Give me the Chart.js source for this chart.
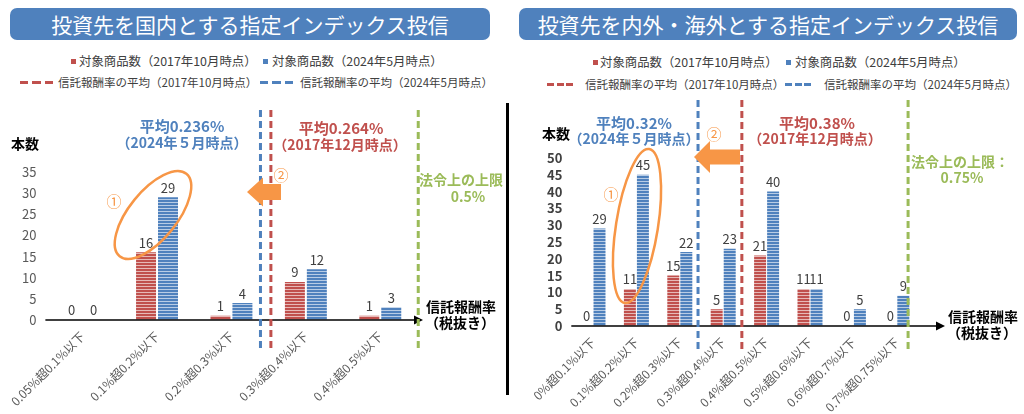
<!DOCTYPE html>
<html lang="ja">
<head>
<meta charset="utf-8">
<script src="https://cdn.jsdelivr.net/npm/chart.js@4.4.1/dist/chart.umd.min.js"></script>
<style>
  body { margin: 0; width: 1024px; height: 414px; background: #fff; position: relative; overflow: hidden;
         font-family: "Noto Sans CJK JP", sans-serif; color: #404040; }
  .banner { position: absolute; top: 8px; height: 32px; background: #4F81BD; border-radius: 7px;
            color: #fff; font-size: 21px; line-height: 32px; text-align: center; }
  .lg { position: absolute; white-space: nowrap; line-height: 16px; }
  .r1 { font-size: 12.4px; }
  .r2 { font-size: 11.5px; }
  .sq { position: absolute; width: 5px; height: 5px; }
  .dash { position: absolute; height: 3px; }
  .divider { position: absolute; left: 506px; top: 103px; width: 3px; height: 292px; background: #000; }
  canvas { position: absolute; }
</style>
</head>
<body>
<div class="banner" style="left:10px;width:480px;">投資先を国内とする指定インデックス投信</div>
<div class="banner" style="left:519px;width:498px;">投資先を内外・海外とする指定インデックス投信</div>

<!-- left legend -->
<div class="sq" style="left:71px;top:59px;background:#C0504D"></div>
<div class="lg r1" style="left:79px;top:53px;">対象商品数（2017年10月時点）</div>
<div class="sq" style="left:263px;top:59px;background:#4F81BD"></div>
<div class="lg r1" style="left:272px;top:53px;">対象商品数（2024年5月時点）</div>
<div class="dash" style="left:20px;top:81px;width:33px;background:repeating-linear-gradient(to right,#C0504D 0 8px,transparent 8px 12.5px)"></div>
<div class="lg r2" style="left:58px;top:74px;">信託報酬率の平均（2017年10月時点）</div>
<div class="dash" style="left:260px;top:81px;width:33px;background:repeating-linear-gradient(to right,#4F81BD 0 8px,transparent 8px 12.5px)"></div>
<div class="lg r2" style="left:300px;top:74px;">信託報酬率の平均（2024年5月時点）</div>

<!-- right legend -->
<div class="sq" style="left:593px;top:60px;background:#C0504D"></div>
<div class="lg r1" style="left:600px;top:54px;">対象商品数（2017年10月時点）</div>
<div class="sq" style="left:786px;top:60px;background:#4F81BD"></div>
<div class="lg r1" style="left:795px;top:54px;">対象商品数（2024年5月時点）</div>
<div class="dash" style="left:547px;top:83px;width:26px;background:repeating-linear-gradient(to right,#C0504D 0 7px,transparent 7px 9.5px)"></div>
<div class="lg r2" style="left:585px;top:76px;">信託報酬率の平均（2017年10月時点）</div>
<div class="dash" style="left:785px;top:83px;width:26px;background:repeating-linear-gradient(to right,#4F81BD 0 7px,transparent 7px 9.5px)"></div>
<div class="lg r2" style="left:824px;top:76px;">信託報酬率の平均（2024年5月時点）</div>

<div class="divider"></div>

<canvas id="leftChart" width="505" height="319" style="left:0;top:95px;"></canvas>
<canvas id="rightChart" width="512" height="319" style="left:512px;top:95px;"></canvas>

<script>
// Left chart: domestic index funds
const leftCategories = ['0.05%超0.1%以下', '0.1%超0.2%以下', '0.2%超0.3%以下', '0.3%超0.4%以下', '0.4%超0.5%以下'];
const leftCount2017 = [0, 16, 1, 9, 1];
const leftCount2024 = [0, 29, 4, 12, 3];
const leftYMax = 35;
// where the 2024 average, 2017 average and legal limit lines sit on the category axis
const leftRefLines = [2.39, 2.53, 4.51];

// Right chart: domestic/foreign index funds
const rightCategories = ['0%超0.1%以下', '0.1%超0.2%以下', '0.2%超0.3%以下', '0.3%超0.4%以下',
    '0.4%超0.5%以下', '0.5%超0.6%以下', '0.6%超0.7%以下', '0.7%超0.75%以下'];
const rightCount2017 = [0, 11, 15, 5, 21, 11, 0, 0];
const rightCount2024 = [29, 45, 22, 23, 40, 11, 5, 9];
const rightYMax = 50;
const rightRefLines = [2.42, 3.43, 7.26];

const yStep = 5;

const RED = '#C0504D';
const BLUE = '#4F81BD';
const GREEN = '#9BBB59';
const ORANGE = '#F79646';
const FONT = '"Noto Sans CJK JP", sans-serif';

Chart.defaults.font.family = FONT;

// horizontal stripe fill like the original bars
function stripes(ctx, color) {
    const c = document.createElement('canvas');
    c.width = 4;
    c.height = 3;
    const g = c.getContext('2d');
    g.fillStyle = color;
    g.fillRect(0, 0, 4, 3);
    g.fillStyle = 'rgba(255,255,255,0.6)';
    g.fillRect(0, 2, 4, 1);
    return ctx.createPattern(c, 'repeat');
}

function drawArrowLeft(ctx, tipX, tipY, tailX, headLen, bodyHalf, headHalf) {
    ctx.beginPath();
    ctx.moveTo(tipX, tipY);
    ctx.lineTo(tipX + headLen, tipY - headHalf);
    ctx.lineTo(tipX + headLen, tipY - bodyHalf);
    ctx.lineTo(tailX, tipY - bodyHalf);
    ctx.lineTo(tailX, tipY + bodyHalf);
    ctx.lineTo(tipX + headLen, tipY + bodyHalf);
    ctx.lineTo(tipX + headLen, tipY + headHalf);
    ctx.closePath();
    ctx.fillStyle = ORANGE;
    ctx.fill();
}

// labels, axis arrow, reference lines and annotations (page coordinates, shifted by the canvas offset)
function decorPlugin(cfg) {
    return {
        id: 'decor',
        afterDatasetsDraw(chart) {
            const ctx = chart.ctx;
            const area = chart.chartArea;
            const xs = chart.scales.x;
            const ox = cfg.ox, oy = cfg.oy;
            ctx.save();

            // value labels
            ctx.font = '13px ' + FONT;
            ctx.fillStyle = '#404040';
            ctx.textAlign = 'center';
            ctx.textBaseline = 'bottom';
            chart.data.datasets.forEach((ds, i) => {
                chart.getDatasetMeta(i).data.forEach((bar, j) => {
                    ctx.fillText(String(ds.data[j]), bar.x, bar.y - 3);
                });
            });

            // x axis with arrow
            const ay = area.bottom;
            const endX = cfg.axisEnd - ox;
            ctx.strokeStyle = '#000';
            ctx.lineWidth = 1.5;
            ctx.beginPath();
            ctx.moveTo(area.left, ay);
            ctx.lineTo(endX - 6, ay);
            ctx.stroke();
            ctx.fillStyle = '#000';
            ctx.beginPath();
            ctx.moveTo(endX, ay);
            ctx.lineTo(endX - 9, ay - 4.5);
            ctx.lineTo(endX - 9, ay + 4.5);
            ctx.closePath();
            ctx.fill();

            // dashed reference lines
            const lineColors = [BLUE, RED, GREEN];
            ctx.lineWidth = 3;
            ctx.setLineDash([7, 4]);
            cfg.lines.forEach((pos, i) => {
                const x = xs.getPixelForValue(pos);
                ctx.strokeStyle = lineColors[i];
                ctx.beginPath();
                ctx.moveTo(x, cfg.lineTop - oy);
                ctx.lineTo(x, cfg.lineBottom - oy);
                ctx.stroke();
            });
            ctx.setLineDash([]);

            // ellipse around the main bin
            const e = cfg.ellipse;
            ctx.strokeStyle = ORANGE;
            ctx.lineWidth = 2.5;
            ctx.beginPath();
            ctx.ellipse(e.x - ox, e.y - oy, e.rx, e.ry, e.rot * Math.PI / 180, 0, Math.PI * 2);
            ctx.stroke();

            const a = cfg.arrow;
            drawArrowLeft(ctx, a.tipX - ox, a.tipY - oy, a.tailX - ox, a.headLen, a.bodyHalf, a.headHalf);

            ctx.textBaseline = 'middle';
            cfg.texts.forEach(t => {
                ctx.font = t.f + ' ' + FONT;
                ctx.fillStyle = t.c;
                ctx.fillText(t.t, t.x - ox, t.y - oy);
            });
            ctx.restore();
        }
    };
}

function makeChart(id, categories, d2017, d2024, yMax, opts, decor) {
    const canvas = document.getElementById(id);
    const ctx = canvas.getContext('2d');
    return new Chart(ctx, {
        type: 'bar',
        data: {
            labels: categories,
            datasets: [
                { label: '対象商品数（2017年10月時点）', data: d2017, backgroundColor: stripes(ctx, RED),
                  categoryPercentage: opts.catPct, barPercentage: opts.barPct },
                { label: '対象商品数（2024年5月時点）', data: d2024, backgroundColor: stripes(ctx, BLUE),
                  categoryPercentage: opts.catPct, barPercentage: opts.barPct }
            ]
        },
        options: {
            responsive: false,
            animation: false,
            layout: { padding: opts.padding },
            plugins: { legend: { display: false }, tooltip: { enabled: false } },
            scales: {
                x: {
                    grid: { display: false, drawTicks: false },
                    border: { display: false },
                    ticks: { autoSkip: false, minRotation: 45, maxRotation: 45, color: '#595959',
                             font: { size: 12 }, padding: 9 },
                    afterFit: s => { s.height = opts.xHeight; }
                },
                y: {
                    min: 0,
                    max: yMax,
                    grid: { display: false, drawTicks: false },
                    border: { display: false },
                    ticks: { stepSize: yStep, autoSkip: false, color: opts.yColor,
                             font: { size: 13, weight: opts.yWeight }, padding: 9 },
                    afterFit: s => { s.width = opts.yWidth; }
                }
            }
        },
        plugins: [decorPlugin(decor)]
    });
}

document.addEventListener('DOMContentLoaded', function () {
    makeChart('leftChart', leftCategories, leftCount2017, leftCount2024, leftYMax,
        { catPct: 0.59, barPct: 0.91, padding: { left: 6.5, right: 87.5, top: 77, bottom: 0 },
          xHeight: 94, yWidth: 36, yColor: '#595959', yWeight: 'normal' },
        { ox: 0, oy: 95, axisEnd: 423, lines: leftRefLines, lineTop: 110, lineBottom: 352,
          ellipse: { x: 153, y: 215, rx: 53, ry: 24, rot: -51 },
          arrow: { tipX: 247, tipY: 192, tailX: 281, headLen: 16, bodyHalf: 8, headHalf: 14.5 },
          texts: [
              { t: '平均0.236%', x: 182, y: 126, c: BLUE, f: 'bold 15px' },
              { t: '（2024年５月時点）', x: 182, y: 143, c: BLUE, f: 'bold 14px' },
              { t: '平均0.264%', x: 341, y: 128, c: RED, f: 'bold 15px' },
              { t: '（2017年12月時点）', x: 340, y: 145, c: RED, f: 'bold 14px' },
              { t: '法令上の上限', x: 461, y: 180, c: GREEN, f: 'bold 14px' },
              { t: '0.5%', x: 468, y: 197, c: GREEN, f: 'bold 14px' },
              { t: '信託報酬率', x: 461, y: 307, c: '#000', f: 'bold 14px' },
              { t: '（税抜き）', x: 460, y: 323, c: '#000', f: 'bold 14px' },
              { t: '本数', x: 25, y: 144, c: '#000', f: 'bold 14px' },
              { t: '①', x: 114, y: 201, c: ORANGE, f: '15px' },
              { t: '②', x: 281, y: 175, c: ORANGE, f: '15px' }
          ] });

    makeChart('rightChart', rightCategories, rightCount2017, rightCount2024, rightYMax,
        { catPct: 0.6, barPct: 0.92, padding: { left: 19.3, right: 105.5, top: 63, bottom: 0 },
          xHeight: 88, yWidth: 40, yColor: '#404040', yWeight: 'bold' },
        { ox: 512, oy: 95, axisEnd: 945, lines: rightRefLines, lineTop: 100, lineBottom: 352,
          ellipse: { x: 637, y: 226, rx: 78, ry: 21, rot: -81 },
          arrow: { tipX: 694, tipY: 157, tailX: 740, headLen: 16, bodyHalf: 7.5, headHalf: 16 },
          texts: [
              { t: '平均0.32%', x: 634, y: 123, c: BLUE, f: 'bold 15px' },
              { t: '（2024年５月時点）', x: 634, y: 139, c: BLUE, f: 'bold 14px' },
              { t: '平均0.38%', x: 817, y: 123, c: RED, f: 'bold 15px' },
              { t: '（2017年12月時点）', x: 815, y: 139, c: RED, f: 'bold 14px' },
              { t: '法令上の上限：', x: 960, y: 162, c: GREEN, f: 'bold 14px' },
              { t: '0.75%', x: 962, y: 178, c: GREEN, f: 'bold 14px' },
              { t: '信託報酬率', x: 983, y: 317, c: '#000', f: 'bold 14px' },
              { t: '（税抜き）', x: 982, y: 333, c: '#000', f: 'bold 14px' },
              { t: '本数', x: 556, y: 134, c: '#000', f: 'bold 14px' },
              { t: '①', x: 611, y: 194, c: ORANGE, f: '15px' },
              { t: '②', x: 714, y: 134, c: ORANGE, f: '15px' }
          ] });
});
</script>
</body>
</html>
